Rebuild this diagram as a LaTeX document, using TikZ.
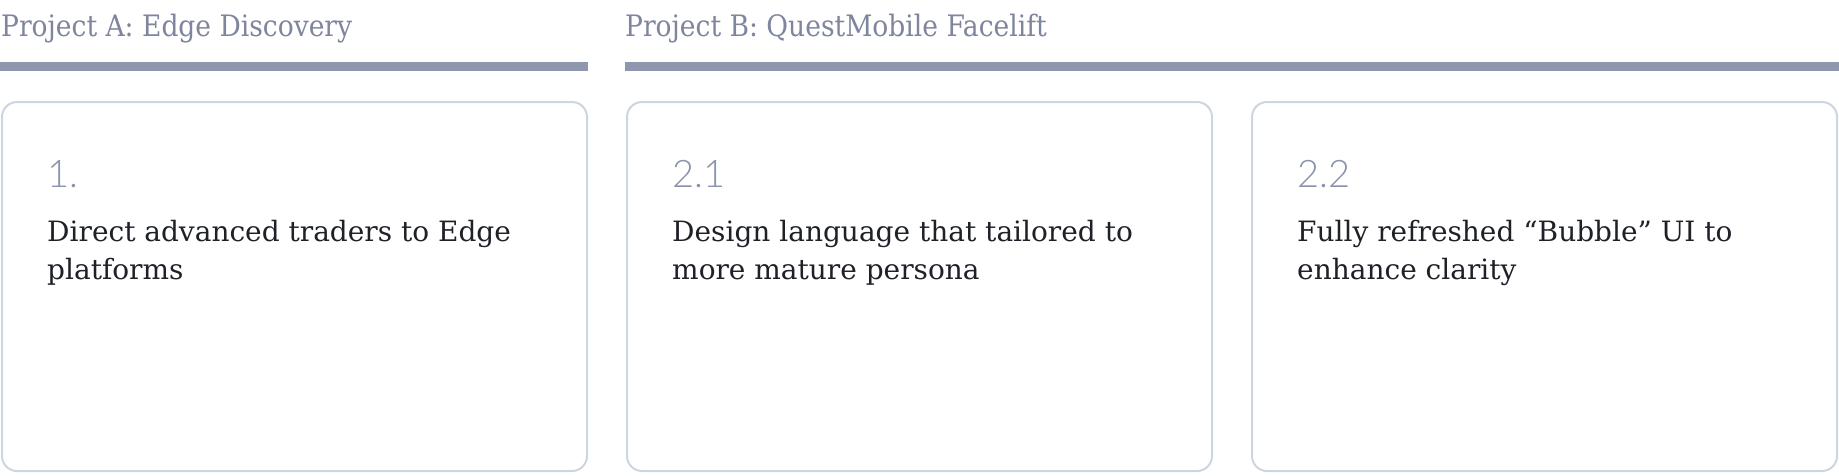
\documentclass[tikz,border=0pt]{standalone}
\usepackage{fontspec}
\setmainfont{DejaVu Serif}
\newfontfamily\headfont{DejaVu Serif Condensed}
\newfontfamily\numfont{Lato Light}
\usetikzlibrary{positioning}
\definecolor{barGray}{HTML}{8E97AE}
\definecolor{headGray}{HTML}{7E859C}
\definecolor{numGray}{HTML}{8A93AB}
\definecolor{cardLine}{HTML}{CDD5E0}
\definecolor{bodyInk}{HTML}{1E2128}
\tikzset{x=1pt, y=-1pt, % one unit is one pixel of the layout, y runs down
node distance=38pt, % gap between two cards
card/.style={draw=cardLine, line width=2pt, rounded corners=15pt, minimum width=585pt, minimum height=369pt, inner sep=0pt}, % the white boxes
bar/.style={fill=barGray, minimum height=9pt, inner sep=0pt}, % the thick rule under a project title
projtitle/.style={anchor=base west, inner sep=0pt, text=headGray, font=\headfont\fontsize{29.5}{34}\selectfont}, % project names
stepnum/.style={anchor=base west, inner sep=0pt, text=numGray, font=\numfont\fontsize{38}{44}\selectfont, xshift=46pt, yshift=-86pt}, % 1. 2.1 2.2
steptext/.style={anchor=base west, inner sep=0pt, text=bodyInk, align=left, font=\fontsize{28}{38}\selectfont, xshift=46pt, yshift=-178pt}, % the sentence in a card (base is the last line)
}
\begin{document}
\begin{tikzpicture}
\useasboundingbox (0,0) rectangle (1839,475);
\node[card] (card1) at (294.5,286.5) {};
\node[card, right=of card1] (card2) {};
\node[card, right=of card2] (card3) {};
\node[bar, minimum width=588pt, anchor=north west] (barA) at (0,62) {};
\node[bar, minimum width=1214pt, anchor=north west] (barB) at (625,62) {};
\node[projtitle] (titleA) at (1,36) {Project A: Edge Discovery};
\node[projtitle] (titleB) at (625,36) {Project B: QuestMobile Facelift};
\node[stepnum] (num1) at (card1.north west) {1.};
\node[stepnum] (num21) at (card2.north west) {2.1};
\node[stepnum] (num22) at (card3.north west) {2.2};
\node[steptext] (text1) at (card1.north west) {Direct advanced traders to Edge\\platforms};
\node[steptext] (text21) at (card2.north west) {Design language that tailored to\\more mature persona};
\node[steptext] (text22) at (card3.north west) {Fully refreshed “Bubble” UI to\\enhance clarity};
\end{tikzpicture}
\end{document}
